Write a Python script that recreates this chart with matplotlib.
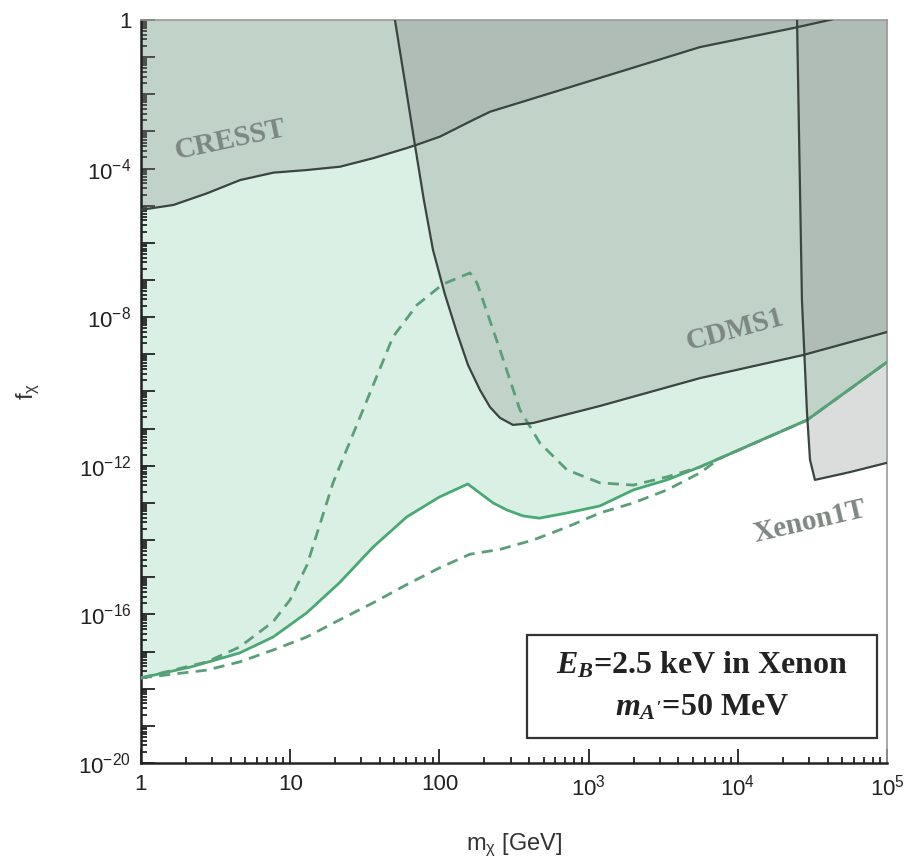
import numpy as np
import matplotlib
matplotlib.use('Agg')
import matplotlib.pyplot as plt
from matplotlib.ticker import LogLocator, FuncFormatter, NullFormatter
from matplotlib.patches import Rectangle

# ---- data (log10 of m_chi [GeV], log10 of f_chi) ----
cresst_logm = [0.0, 0.217, 0.44, 0.664, 0.887, 1.11, 1.334, 1.557, 1.78, 1.848, 2.004, 2.227, 2.34,
               3.076, 3.747, 4.37, 4.617, 5.0]
cresst_logf = [-5.11, -4.98, -4.67, -4.31, -4.11, -4.04, -3.95, -3.72, -3.45, -3.36, -3.14, -2.69, -2.47,
               -1.56, -0.73, -0.22, 0.0, 0.4]

cdms_logm = [1.69, 1.702, 1.769, 1.836, 1.896, 1.957, 2.038, 2.118, 2.192, 2.272, 2.339, 2.406, 2.493,
             2.627, 3.076, 3.747, 4.437, 5.0]
cdms_logf = [0.3, 0.0, -1.67, -3.365, -4.85, -6.19, -7.40, -8.42, -9.29, -9.96, -10.42, -10.71, -10.90,
             -10.85, -10.39, -9.64, -9.02, -8.40]

xenon_logm = [4.392, 4.397, 4.43, 4.464, 4.484, 4.517, 4.752, 5.0]
xenon_logf = [0.3, 0.0, -7.54, -10.58, -11.84, -12.38, -12.17, -11.92]

solid_logm = [0.0, 0.33, 0.66, 0.885, 1.11, 1.33, 1.555, 1.78, 2.0, 2.19, 2.36, 2.453, 2.56, 2.67,
              2.855, 3.076, 3.30, 3.525, 3.747, 4.464, 5.0]
solid_logf = [-17.71, -17.42, -17.04, -16.61, -15.96, -15.15, -14.19, -13.38, -12.84, -12.49, -13.0,
              -13.19, -13.35, -13.41, -13.27, -13.08, -12.65, -12.38, -12.03, -10.77, -9.21]

upper_logm = [0.0, 0.44, 0.66, 0.885, 0.999, 1.113, 1.287, 1.515, 1.689, 1.85, 2.024, 2.205, 2.252,
              2.406, 2.54, 2.674, 2.855, 3.076, 3.30, 3.525, 3.747, 4.464, 5.0]
upper_logf = [-17.71, -17.28, -16.88, -16.20, -15.61, -14.67, -12.46, -10.23, -8.53, -7.67, -7.11,
              -6.81, -7.08, -8.88, -10.50, -11.39, -12.11, -12.46, -12.52, -12.30, -12.03, -10.77, -9.21]

lower_logm = [0.0, 0.44, 0.66, 0.885, 1.11, 1.33, 1.555, 1.78, 2.0, 2.205, 2.406, 2.627, 2.855,
              3.076, 3.30, 3.525, 3.747, 3.88, 4.464, 5.0]
lower_logf = [-17.71, -17.50, -17.28, -16.96, -16.61, -16.15, -15.69, -15.2, -14.75, -14.38, -14.25,
              -14.0, -13.65, -13.27, -13.0, -12.65, -12.19, -11.80, -10.77, -9.21]

x_tick_exps = [0, 1, 2, 3, 4, 5]
y_label_exps = [0, -4, -8, -12, -16, -20]

def pw(a):
    return np.power(10.0, np.asarray(a, dtype=float))

plt.rcParams['mathtext.fontset'] = 'dejavusans'
plt.rcParams['mathtext.rm'] = 'Liberation Serif:bold'
plt.rcParams['mathtext.it'] = 'Liberation Serif:italic:bold'
plt.rcParams['mathtext.bf'] = 'Liberation Serif:bold'

fig = plt.figure(figsize=(9.05, 8.6), dpi=100)
ax = fig.add_axes([0.1558, 0.1128, 0.8243, 0.8640])
ax.set_xscale('log')
ax.set_yscale('log')
ax.set_xlim(1, 1e5)
ax.set_ylim(1e-20, 1)

green_fill = '#daf0e4'
overlay = '#8a8f8c'
edge = '#3a4540'
green_line = '#4aa874'
green_dash = '#5a9e7a'

ax.fill_between(pw(solid_logm), pw(solid_logf), 10, color=green_fill, lw=0, zorder=1)
for lm, lf in [(cresst_logm, cresst_logf), (cdms_logm, cdms_logf), (xenon_logm, xenon_logf)]:
    ax.fill_between(pw(lm), pw(lf), 10, color=overlay, alpha=0.3, lw=0, zorder=2)
    ax.plot(pw(lm), pw(lf), color=edge, lw=1.6, zorder=4)

ax.plot(pw(solid_logm), pw(solid_logf), color=green_line, lw=2.0, zorder=3)
ax.plot(pw(upper_logm), pw(upper_logf), color=green_dash, lw=2.0, dashes=(4, 2.6), zorder=3)
ax.plot(pw(lower_logm), pw(lower_logf), color=green_dash, lw=2.0, dashes=(4, 2.6), zorder=3)

lab_kw = dict(family='Liberation Serif', weight='bold', color='#7d8782', fontsize=21,
              ha='center', va='center', zorder=6)
ax.text(3.95, 6.0e-4, 'CRESST', rotation=12, **lab_kw)
ax.text(9.6e3, 4.5e-9, 'CDMS1', rotation=15, **lab_kw)
ax.text(3.05e4, 3.1e-14, 'Xenon1T', rotation=13, **lab_kw)

# annotation box
ax.add_patch(Rectangle((0.517, 0.0336), 0.470, 0.138, transform=ax.transAxes,
                       facecolor='white', edgecolor='#333333', lw=1.6, zorder=7))
box_kw = dict(family='Liberation Serif', weight='bold', color='#222222', fontsize=23,
              ha='center', va='center', transform=ax.transAxes, zorder=8, math_fontfamily='custom')
ax.text(0.752, 0.132, r"$E_B$=2.5 keV in Xenon", **box_kw)
ax.text(0.752, 0.074, r"$m_{A'}$=50 MeV", **box_kw)

# ticks
ax.xaxis.set_major_locator(LogLocator(base=10, numticks=30))
ax.xaxis.set_minor_locator(LogLocator(base=10, subs=np.arange(2, 10), numticks=100))
ax.yaxis.set_major_locator(LogLocator(base=10, numticks=40))
ax.yaxis.set_minor_locator(LogLocator(base=10, subs=np.arange(2, 10), numticks=200))

def xfmt(v, pos):
    e = int(round(np.log10(v)))
    if e not in x_tick_exps:
        return ''
    if e <= 2:
        return '%d' % (10 ** e)
    return r'$\mathdefault{10^{%d}}$' % e

def yfmt(v, pos):
    e = int(round(np.log10(v)))
    if e not in y_label_exps:
        return ''
    if e == 0:
        return '1'
    return r'$\mathdefault{10^{%d}}$' % e

ax.xaxis.set_major_formatter(FuncFormatter(xfmt))
ax.yaxis.set_major_formatter(FuncFormatter(yfmt))
ax.xaxis.set_minor_formatter(NullFormatter())
ax.yaxis.set_minor_formatter(NullFormatter())

ax.tick_params(which='both', direction='in', top=False, right=False, colors='#222222',
               labelsize=16, width=1.3)
ax.tick_params(which='major', length=10)
ax.tick_params(which='minor', length=4.5)
ax.tick_params(axis='x', pad=8)
ax.tick_params(axis='y', pad=7)
for t in ax.get_xticklabels() + ax.get_yticklabels():
    t.set_family('Liberation Sans')

for s in ['left', 'bottom']:
    ax.spines[s].set_color('#222222')
    ax.spines[s].set_linewidth(1.8)
for s in ['top', 'right']:
    ax.spines[s].set_color('#999999')
    ax.spines[s].set_linewidth(1.2)

ax.set_xlabel(r'$\mathdefault{m_{\chi}}$ [GeV]', family='Liberation Sans', fontsize=17, color='#333333')
ax.set_ylabel(r'$\mathdefault{f_{\chi}}$', family='Liberation Sans', fontsize=17, color='#333333')
ax.xaxis.set_label_coords(0.5, -0.093)
ax.yaxis.set_label_coords(-0.133, 0.5)

fig.savefig('out.png', dpi=100)
